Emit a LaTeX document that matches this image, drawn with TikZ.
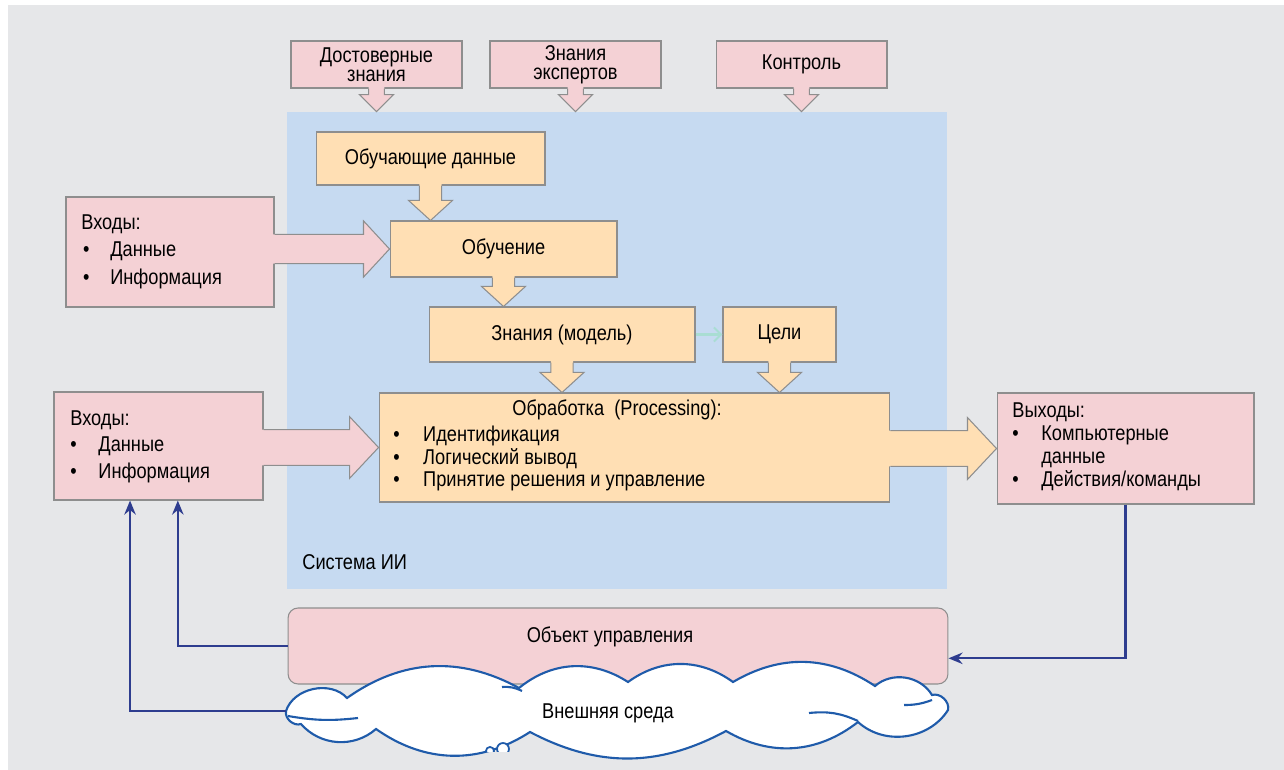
\documentclass[tikz,border=0pt]{standalone}
\usepackage{fontspec}
\setmainfont{Liberation Sans}[FakeStretch=0.85]
\usetikzlibrary{calc,arrows.meta}

\definecolor{bggrey}{HTML}{E6E7E9}
\definecolor{sysblue}{HTML}{C6DAF1}
\definecolor{boxpink}{HTML}{F4D1D5}
\definecolor{boxorange}{HTML}{FFDFB4}
\definecolor{edgegrey}{HTML}{8E8E8E}
\definecolor{navy}{HTML}{2E3D8F}
\definecolor{cloudblue}{HTML}{1F5BAA}
\definecolor{tealarrow}{HTML}{A9DDD3}

\newcommand{\lblfont}{\fontsize{12.2}{14}\selectfont}

\tikzset{
  edge/.style={draw=edgegrey, line width=0.6pt},
  pinkbox/.style={edge, fill=boxpink},
  orangebox/.style={edge, fill=boxorange},
  twoline/.style={align=center, font=\fontsize{12.2}{10.8}\selectfont},
  feedback/.style={navy, line width=1.3pt, -{Stealth[length=8pt,width=6.5pt]}},
  cloudline/.style={cloudblue, line width=1.2pt},
}

% block arrow pointing down: fill, from, to, half shaft, half head, head length
\newcommand{\blockdown}[6]{%
  \fill [#1] let \p1=(#2), \p2=(#3) in
    (\x1-#4,\y1+1pt) -- (\x1-#4,\y2+#6) -- (\x1-#5,\y2+#6) -- (\x1,\y2)
    -- (\x1+#5,\y2+#6) -- (\x1+#4,\y2+#6) -- (\x1+#4,\y1+1pt) -- cycle;
  \draw [edge] let \p1=(#2), \p2=(#3) in
    (\x1-#4,\y1) -- (\x1-#4,\y2+#6) -- (\x1-#5,\y2+#6) -- (\x1,\y2)
    -- (\x1+#5,\y2+#6) -- (\x1+#4,\y2+#6) -- (\x1+#4,\y1);
}
% block arrow pointing right
\newcommand{\blockright}[6]{%
  \fill [#1] let \p1=(#2), \p2=(#3) in
    (\x1-1pt,\y2+#4) -- (\x2-#6,\y2+#4) -- (\x2-#6,\y2+#5) -- (\x2,\y2)
    -- (\x2-#6,\y2-#5) -- (\x2-#6,\y2-#4) -- (\x1-1pt,\y2-#4) -- cycle;
  \draw [edge] let \p1=(#2), \p2=(#3) in
    (\x1,\y2+#4) -- (\x2-#6,\y2+#4) -- (\x2-#6,\y2+#5) -- (\x2,\y2)
    -- (\x2-#6,\y2-#5) -- (\x2-#6,\y2-#4) -- (\x1,\y2-#4);
}

\begin{document}
\begin{tikzpicture}[x=0.02cm, y=0.02cm]
    \tikzstyle{every node}+=[inner sep=0pt, font=\lblfont]
    \useasboundingbox (0,0) rectangle (1284,-770);
    \fill [bggrey] (8,-5) rectangle (1284,-770);

    \node [fill=sysblue, minimum width=13.2cm, minimum height=9.54cm] (sys) at (617,-350.5) {};
    \node [anchor=west] (syslabel) at (302,-562) {Система ИИ};

    \node [pinkbox, twoline, minimum width=3.42cm, minimum height=0.94cm] (reliable) at (376.5,-64.5) {Достоверные\\знания};
    \node [pinkbox, twoline, minimum width=3.42cm, minimum height=0.94cm] (experts) at (575.5,-64.5) {Знания\\экспертов};
    \node [pinkbox, minimum width=3.42cm, minimum height=0.94cm] (control) at (801.5,-64.5) {Контроль};
    \blockdown{boxpink}{reliable.south}{sys.north}{4.5pt}{9.7pt}{9.7pt}
    \blockdown{boxpink}{experts.south}{sys.north}{4.5pt}{9.7pt}{9.7pt}
    \blockdown{boxpink}{control.south}{sys.north}{4.5pt}{9.7pt}{9.7pt}

    \node [orangebox, minimum width=4.58cm, minimum height=1.06cm] (traindata) at (430.5,-158.5) {Обучающие данные};
    \node [orangebox, minimum width=4.54cm, minimum height=1.12cm] (learn) at (503.5,-249) {Обучение};
    \node [orangebox, minimum width=5.32cm, minimum height=1.10cm] (model) at (562,-334.5) {Знания (модель)};
    \node [orangebox, minimum width=2.26cm, minimum height=1.10cm] (goals) at (779.5,-334.5) {Цели};
    \node [orangebox, minimum width=10.22cm, minimum height=2.18cm] (proc) at (634.5,-447.5) {};
    \node (proctitle) at (617,-410) {Обработка\ \ (Processing):};
    \node [anchor=west, font=\fontsize{12.2}{12.8}\selectfont] (proctxt) at (393,-459.5)
      {\begin{tabular}{@{}p{17pt}@{}l@{}}
        \textbullet & Идентификация\\
        \textbullet & Логический вывод\\
        \textbullet & Принятие решения и управление
      \end{tabular}};
    \blockdown{boxorange}{traindata.south}{learn.north}{6.3pt}{12.5pt}{11.4pt}
    \blockdown{boxorange}{learn.south}{model.north}{6.3pt}{12.5pt}{11.4pt}
    \blockdown{boxorange}{model.south}{proc.north}{6.3pt}{12.5pt}{11.4pt}
    \blockdown{boxorange}{goals.south}{proc.north}{6.3pt}{12.5pt}{11.4pt}
    \draw [tealarrow, line width=1.2pt, -{Straight Barb[length=4pt,width=8pt]}] (model.east) -- (goals.west);

    \node [pinkbox, minimum width=4.16cm, minimum height=2.20cm] (in1) at (170,-252) {};
    \node [anchor=west, font=\fontsize{12.2}{15.6}\selectfont] (in1txt) at (81,-251.5)
      {\begin{tabular}{@{}p{16.5pt}@{}l@{}}
        \multicolumn{2}{@{}l@{}}{Входы:}\\
        \hspace{1pt}\textbullet & Данные\\
        \hspace{1pt}\textbullet & Информация
      \end{tabular}};
    \blockright{boxpink}{in1.east}{learn.west}{8.3pt}{16pt}{14.8pt}

    \node [pinkbox, minimum width=4.18cm, minimum height=2.16cm] (in2) at (158.5,-446) {};
    \node [anchor=west, font=\fontsize{12.2}{15.1}\selectfont] (in2txt) at (70,-446.5)
      {\begin{tabular}{@{}p{16pt}@{}l@{}}
        \multicolumn{2}{@{}l@{}}{Входы:}\\
        \textbullet & Данные\\
        \textbullet & Информация
      \end{tabular}};
    \blockright{boxpink}{in2.east}{proc.west}{10.2pt}{17.6pt}{16.5pt}

    \node [pinkbox, minimum width=5.14cm, minimum height=2.22cm] (out) at (1125.5,-448.5) {};
    \node [anchor=west, font=\fontsize{12.2}{13.1}\selectfont] (outtxt) at (1012,-447.5)
      {\begin{tabular}{@{}p{16.5pt}@{}l@{}}
        \multicolumn{2}{@{}l@{}}{Выходы:}\\
        \textbullet & Компьютерные\\
                    & данные\\
        \textbullet & Действия/команды
      \end{tabular}};
    \blockright{boxorange}{proc.east}{out.west}{10.2pt}{17.6pt}{16.5pt}

    \node [pinkbox, rounded corners=0.2cm, minimum width=13.2cm, minimum height=1.52cm] (obj) at (618,-646) {};
    \node (objtxt) at (610,-637) {Объект управления};

    % cloud of the environment
    \coordinate (envwest) at (286,-711);
    \draw [cloudline, fill=white] (envwest)
      to[bend left=60] (347,-698) to[bend left=32] (519,-688) to[bend left=36] (628,-682)
      to[bend left=36] (733,-682) to[bend left=32] (875,-686) to[bend left=50] (932,-695)
      to[bend left=60] (948,-710) to[bend left=50] (858,-722) to[bend left=34] (726,-731)
      to[bend left=28] (530,-732) to[bend left=34] (376,-729) to[bend left=45] (301,-724)
      to[bend left=60] (envwest) -- cycle;
    \draw [cloudline] (288,-716) to[bend right=8] (358,-718);
    \draw [cloudline] (502,-687) to[bend left=15] (522,-691);
    \draw [cloudline] (809,-713) to[bend left=15] (858,-721);
    \draw [cloudline] (904,-705) to[bend right=10] (932,-700);
    \node (env) at (608,-713) {Внешняя среда};

    \draw [feedback] (out.south) |- ([yshift=-7pt]obj.east);
    \draw [feedback] (obj.west) -| ([xshift=11pt]in2.south);
    \draw [feedback] (envwest) -| ([xshift=-16.2pt]in2.south);

    \begin{scope}
      \clip (440,-730) rectangle (560,-751);
      \draw [cloudline, line width=1pt, fill=white] (503,-749) circle (3.4pt);
      \draw [cloudline, line width=1pt, fill=white] (490,-751) circle (2.3pt);
    \end{scope}
\end{tikzpicture}
\end{document}
